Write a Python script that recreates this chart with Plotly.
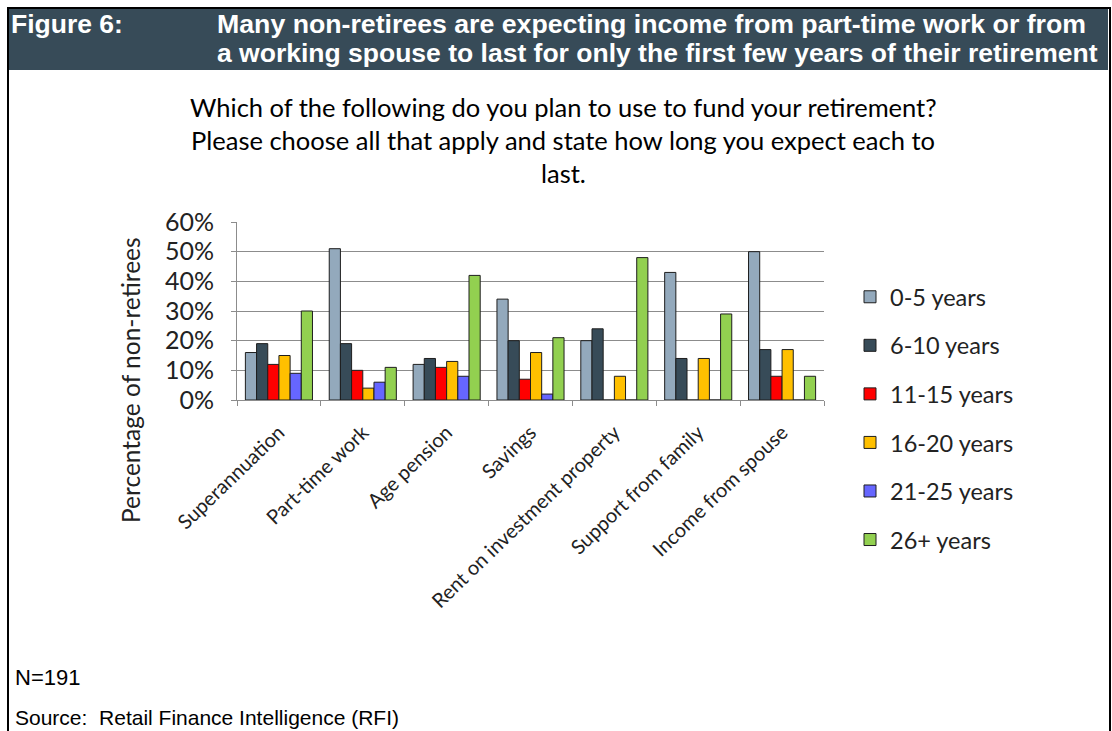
import plotly.graph_objects as go

# Survey categories and the share of non-retirees per expected duration
categories = ["Superannuation", "Part-time work", "Age pension", "Savings",
              "Rent on investment property", "Support from family", "Income from spouse"]
durations = ["0-5 years", "6-10 years", "11-15 years", "16-20 years", "21-25 years", "26+ years"]

yrs_0_5 = [0.16, 0.51, 0.12, 0.34, 0.20, 0.43, 0.50]
yrs_6_10 = [0.19, 0.19, 0.14, 0.20, 0.24, 0.14, 0.17]
yrs_11_15 = [0.12, 0.10, 0.11, 0.07, 0.0, 0.0, 0.08]
yrs_16_20 = [0.15, 0.04, 0.13, 0.16, 0.08, 0.14, 0.17]
yrs_21_25 = [0.09, 0.06, 0.08, 0.02, 0.0, 0.0, 0.0]
yrs_26_plus = [0.30, 0.11, 0.42, 0.21, 0.48, 0.29, 0.08]

series = [yrs_0_5, yrs_6_10, yrs_11_15, yrs_16_20, yrs_21_25, yrs_26_plus]
colors = ["#93A9BC", "#374B58", "#FF0000", "#FFC000", "#6666FF", "#92D050"]

W, H = 1112, 731
PL, PR, PT, PB = 237, 824, 222, 400  # plot area in pixels


def px_x(x):
    return (x - PL) / (PR - PL)


def px_y(y):
    return (PB - y) / (PB - PT)


TEXT_FONT = "Lato, 'Open Sans', sans-serif"
HEAD_FONT = "'Liberation Sans', Arial, sans-serif"

fig = go.Figure()
for name, vals, col in zip(durations, series, colors):
    fig.add_trace(go.Bar(
        x=categories, y=vals, name=name, legendgroup=name,
        marker=dict(color=col, line=dict(color="#1E1E1E", width=1)),
    ))

shapes = [
    # header band
    dict(type="rect", xref="paper", yref="paper", x0=px_x(9), x1=px_x(1108),
         y0=px_y(70), y1=px_y(9), fillcolor="#374B58", line=dict(width=0), layer="below"),
    # outer frame
    dict(type="line", xref="paper", yref="paper", x0=px_x(7), x1=px_x(1111),
         y0=px_y(8), y1=px_y(8), line=dict(color="black", width=2)),
    dict(type="line", xref="paper", yref="paper", x0=px_x(8), x1=px_x(8),
         y0=px_y(7), y1=px_y(735), line=dict(color="black", width=2)),
    dict(type="line", xref="paper", yref="paper", x0=px_x(1110), x1=px_x(1110),
         y0=px_y(7), y1=px_y(735), line=dict(color="black", width=2)),
]

annotations = [
    dict(text="<b>Figure 6:</b>", x=px_x(9), y=px_y(24), xanchor="left", yanchor="middle",
         font=dict(family=HEAD_FONT, size=26.5, color="white")),
    dict(text="<b>Many non-retirees are expecting income from part-time work or from</b>",
         x=px_x(215), y=px_y(24), xanchor="left", yanchor="middle",
         font=dict(family=HEAD_FONT, size=26.7, color="white")),
    dict(text="<b>a working spouse to last for only the first few years of their retirement</b>",
         x=px_x(215), y=px_y(53), xanchor="left", yanchor="middle",
         font=dict(family=HEAD_FONT, size=26.5, color="white")),
    dict(text="N=191", x=px_x(13), y=px_y(677), xanchor="left", yanchor="middle",
         font=dict(family=HEAD_FONT, size=22, color="black")),
    dict(text="Source:  Retail Finance Intelligence (RFI)", x=px_x(13), y=px_y(717),
         xanchor="left", yanchor="middle",
         font=dict(family=HEAD_FONT, size=21, color="black")),
    dict(text="Percentage of non-retirees", x=px_x(130), y=px_y(380), textangle=-90,
         xanchor="center", yanchor="middle",
         font=dict(family=TEXT_FONT, size=24.5, color="#222")),
]

question = ["Which of the following do you plan to use to fund your retirement?",
            "Please choose all that apply and state how long you expect each to",
            "last."]
for i, line in enumerate(question):
    annotations.append(dict(text=line, x=px_x(563), y=px_y(107 + 33 * i),
                            xanchor="center", yanchor="middle",
                            font=dict(family=TEXT_FONT, size=25.5, color="black")))

for a in annotations:
    a.update(xref="paper", yref="paper", showarrow=False)

fig.update_layout(
    width=W, height=H,
    margin=dict(l=PL, r=W - PR, t=PT, b=H - PB, pad=0),
    paper_bgcolor="white", plot_bgcolor="white",
    barmode="group", bargap=0.2, bargroupgap=0,
    showlegend=True,
    legend=dict(x=px_x(850), y=px_y(275), xanchor="left", yanchor="top",
                font=dict(family=TEXT_FONT, size=23.5, color="#222"),
                tracegroupgap=15, maxheight=500, bgcolor="rgba(0,0,0,0)"),
    shapes=shapes, annotations=annotations,
    font=dict(family=TEXT_FONT, color="#222"),
)
fig.update_yaxes(range=[0, 0.6], dtick=0.1, tickformat=".0%",
                 showgrid=True, gridcolor="#8C8C8C", gridwidth=1,
                 showline=True, linecolor="#8C8C8C", linewidth=1,
                 ticks="outside", ticklen=5, tickcolor="#8C8C8C",
                 ticklabelstandoff=12,
                 tickfont=dict(family=TEXT_FONT, size=25, color="#222"),
                 zeroline=False)
fig.update_xaxes(tickangle=-44, tickson="boundaries",
                 showline=True, linecolor="#8C8C8C", linewidth=1,
                 ticks="outside", ticklen=5, tickcolor="#8C8C8C",
                 ticklabelstandoff=12,
                 tickfont=dict(family=TEXT_FONT, size=20, color="#222"))

fig.write_html("out.html")
